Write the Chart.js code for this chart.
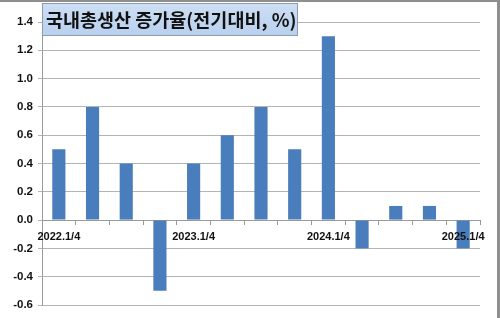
<!DOCTYPE html>
<html>
<head>
<meta charset="utf-8">
<script src="https://cdn.jsdelivr.net/npm/chart.js@4"></script>
<style>
  html, body { margin: 0; padding: 0; background: #fff; }
  #wrap { width: 500px; height: 318px; position: relative; }
</style>
</head>
<body>
<div id="wrap"><canvas id="myChart" width="500" height="318"></canvas></div>
<script>
// 분기 (2022.1/4 ~ 2025.1/4)
var quarters = ["2022.1/4","2022.2/4","2022.3/4","2022.4/4",
                "2023.1/4","2023.2/4","2023.3/4","2023.4/4",
                "2024.1/4","2024.2/4","2024.3/4","2024.4/4",
                "2025.1/4"];
// 전기대비 증가율 (%)
var growth = [0.5, 0.8, 0.4, -0.5, 0.4, 0.6, 0.8, 0.5, 1.3, -0.2, 0.1, 0.1, -0.2];
// x축에 보이는 라벨
var shownLabels = ["2022.1/4", "2023.1/4", "2024.1/4", "2025.1/4"];
var yTicks = { min: -0.6, max: 1.4, step: 0.2 };
var titleText = "국내총생산 증가율(전기대비, %)";

// 제목 박스 + 테두리
var titleBox = {
    id: 'titleBox',
    afterDraw: function(chart){
        var c = chart.ctx;
        c.save();
        // 바깥 테두리 (위, 오른쪽)
        c.fillStyle = '#8e8e8e';
        c.fillRect(0, 0, 500, 2);
        c.fillRect(497, 0, 3, 318);
        // 제목 박스
        var g = c.createLinearGradient(0, 3, 0, 35);
        g.addColorStop(0, '#cddff4');
        g.addColorStop(1, '#b9d0ee');
        c.fillStyle = g;
        c.fillRect(42.5, 3.5, 255, 32);
        c.strokeStyle = '#8d9bb0';
        c.lineWidth = 1;
        c.strokeRect(42.5, 3.5, 255, 32);
        c.fillStyle = '#111';
        c.font = 'bold 18.5px "Noto Sans CJK KR"';
        c.textBaseline = 'middle';
        c.textAlign = 'left';
        c.fillText(titleText, 46, 20);
        c.restore();
    }
};

document.addEventListener("DOMContentLoaded", function(){
    var ctx = document.getElementById('myChart').getContext('2d');
    var chart = new Chart(ctx, {
        type: 'bar',
        data: {
            labels: quarters,
            datasets: [{
                label: '증가율',
                data: growth,
                backgroundColor: '#4a7dbb',
                borderWidth: 0,
                barPercentage: 0.39,
                categoryPercentage: 1.0
            }]
        },
        options: {
            responsive: false,
            animation: false,
            layout: { padding: { left: 0, right: 20, top: 22, bottom: 13 } },
            plugins: {
                legend: { display: false },
                title: { display: false },
                tooltip: { enabled: false }
            },
            scales: {
                x: {
                    position: { y: 0 },
                    grid: {
                        display: true,
                        drawOnChartArea: false,
                        drawTicks: true,
                        tickLength: 4,
                        color: '#9a9a9a',
                        offset: true
                    },
                    border: { display: true, color: '#9a9a9a', width: 1 },
                    ticks: {
                        z: 1,
                        autoSkip: false,
                        maxRotation: 0,
                        padding: 6,
                        color: '#111',
                        font: { family: '"Liberation Sans", Arial', size: 11, weight: 'bold' },
                        callback: function(v, i){
                            var q = quarters[i];
                            return shownLabels.indexOf(q) >= 0 ? q : '';
                        }
                    }
                },
                y: {
                    min: yTicks.min,
                    max: yTicks.max,
                    afterFit: function(s){ s.width = 42; },
                    grid: {
                        color: '#b4b4b4',
                        lineWidth: 1,
                        tickLength: 4
                    },
                    border: { display: true, color: '#9a9a9a', width: 1 },
                    ticks: {
                        stepSize: yTicks.step,
                        padding: 5,
                        color: '#111',
                        font: { family: '"Liberation Sans", Arial', size: 11.5, weight: 'bold' },
                        callback: function(v){ return (Math.round(v * 10) / 10).toFixed(1); }
                    }
                }
            }
        },
        plugins: [titleBox]
    });
});
</script>
</body>
</html>
